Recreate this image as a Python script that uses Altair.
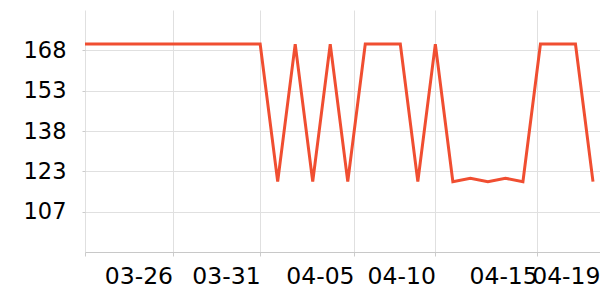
import altair as alt
import pandas as pd

dates = pd.date_range("2024-03-21", "2024-04-19", freq="D").strftime("%Y-%m-%d").tolist()
H, L, M = 170.6, 118.6, 119.9
values = [H] * 11 + [L, H, L, H, L, H, H, H, L, H, L, M, L, M, L, H, H, H, L]

x_ticks = [
    alt.DateTime(year=2024, month=3, date=21, utc=True),
    alt.DateTime(year=2024, month=3, date=26, utc=True),
    alt.DateTime(year=2024, month=3, date=31, utc=True),
    alt.DateTime(year=2024, month=4, date=5, hours=8, minutes=40, utc=True),
    alt.DateTime(year=2024, month=4, date=10, utc=True),
    alt.DateTime(year=2024, month=4, date=15, hours=19, minutes=40, utc=True),
    alt.DateTime(year=2024, month=4, date=19, hours=9, minutes=36, utc=True),
]
x_domain = [
    alt.DateTime(year=2024, month=3, date=21, utc=True),
    alt.DateTime(year=2024, month=4, date=19, hours=9, minutes=36, utc=True),
]
y_ticks = [107.25, 122.5, 137.75, 153, 168.25]
y_domain = [92, 183.5]

df = pd.DataFrame({"date": dates, "value": values})

first_ms = pd.Timestamp("2024-03-21", tz="UTC").value // 10**6
last_ms = pd.Timestamp("2024-04-19 09:00", tz="UTC").value // 10**6

chart = alt.Chart(df).mark_line(color="#f04e31", strokeWidth=3).encode(
    x=alt.X(
        "date:T",
        scale=alt.Scale(type="utc", domain=x_domain),
        axis=alt.Axis(
            title=None,
            values=x_ticks,
            labelExpr=f"datum.value <= {first_ms} ? '' : utcFormat(datum.value, '%m-%d')",
            labelAlign="right",
            labelOverlap=False,
            labelBound=False,
            labelFlush=False,
            labelFont="DejaVu Sans",
            labelFontSize=23.5,
            labelColor="#000",
            labelPadding=8,
            tickSize=4,
            tickColor="#ccc",
            domainColor="#c8c8c8",
            grid=True,
            gridColor="#e0e0e0",
            gridOpacity={"condition": {"test": f"datum.value > {last_ms}", "value": 0}, "value": 1},
        ),
    ),
    y=alt.Y(
        "value:Q",
        scale=alt.Scale(domain=y_domain, nice=False, zero=False),
        axis=alt.Axis(
            title=None,
            values=y_ticks,
            format="d",
            labelFont="DejaVu Sans",
            labelFontSize=22.5,
            labelColor="#000",
            labelPadding=16,
            tickSize=3,
            tickColor="#ccc",
            domain=False,
            grid=True,
            gridColor="#e0e0e0",
        ),
    ),
).properties(
    width=515,
    height=242,
    autosize=alt.AutoSizeParams(type="none"),
    padding={"left": 85, "top": 10, "right": 0, "bottom": 48},
).configure_view(stroke=None)

chart.save("out.html", embed_options={"renderer": "svg", "actions": False})
